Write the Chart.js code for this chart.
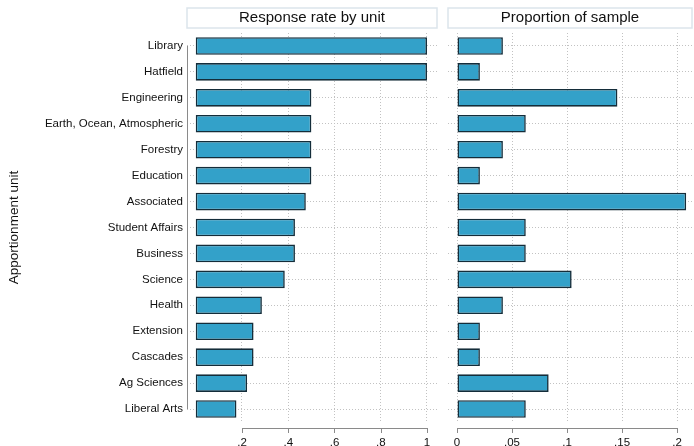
<!DOCTYPE html>
<html>
<head>
<meta charset="utf-8">
<script src="https://cdn.jsdelivr.net/npm/chart.js@4"></script>
<style>
  html, body { margin: 0; padding: 0; background: #fff; }
  #wrap { position: relative; width: 694px; height: 446px; }
  #left { position: absolute; left: 0; top: 0; }
  #right { position: absolute; left: 442px; top: 0; }
</style>
</head>
<body>
<div id="wrap">
  <canvas id="left" width="442" height="446"></canvas>
  <canvas id="right" width="252" height="446"></canvas>
</div>
<script>
const units = [
  "Library", "Hatfield", "Engineering", "Earth, Ocean, Atmospheric", "Forestry",
  "Education", "Associated", "Student Affairs", "Business", "Science",
  "Health", "Extension", "Cascades", "Ag Sciences", "Liberal Arts"
];
const responseRate = [1, 1, 0.5, 0.5, 0.5, 0.5, 0.476, 0.429, 0.429, 0.385, 0.286, 0.25, 0.25, 0.222, 0.176];
const proportion = [0.0417, 0.0208, 0.1458, 0.0625, 0.0417, 0.0208, 0.2083, 0.0625, 0.0625, 0.1042, 0.0417, 0.0208, 0.0208, 0.0833, 0.0625];
const rateTicks = [0.2, 0.4, 0.6, 0.8, 1];
const propTicks = [0, 0.05, 0.1, 0.15, 0.2];

const FONT = "'Liberation Sans', Arial, Helvetica, sans-serif";
const barFill = "#33a1c9";
const barEdge = "#142d3a";
const gridColor = "#c2c2c2";
const axisColor = "#8a8a8a";

// strip the leading zero the way Stata prints it
const fmt = v => {
  const s = String(Math.round(v * 100) / 100);
  return s.startsWith("0.") ? s.slice(1) : s;
};

// boxed panel title plus an x axis line that only spans the ticks
const panelPlugin = {
  id: "panel",
  afterDraw(chart, args, opts) {
    const ctx = chart.ctx;
    const area = chart.chartArea;
    const x = chart.scales.x;
    ctx.save();
    // title box
    ctx.fillStyle = "#fff";
    ctx.strokeStyle = "#dce5eb";
    ctx.lineWidth = 1.5;
    ctx.fillRect(area.left, 8, area.right - area.left, 20);
    ctx.strokeRect(area.left, 8, area.right - area.left, 20);
    ctx.fillStyle = "#111";
    ctx.font = "15px " + FONT;
    ctx.textAlign = "center";
    ctx.textBaseline = "middle";
    ctx.fillText(opts.title, (area.left + area.right) / 2, 18);

    // x axis
    const ticks = opts.ticks;
    const yAxis = area.bottom + 6;
    ctx.strokeStyle = axisColor;
    ctx.lineWidth = 1;
    ctx.beginPath();
    ctx.moveTo(x.getPixelForValue(ticks[0]), yAxis + 0.5);
    ctx.lineTo(x.getPixelForValue(ticks[ticks.length - 1]), yAxis + 0.5);
    ticks.forEach(t => {
      const px = Math.round(x.getPixelForValue(t)) + 0.5;
      ctx.moveTo(px, yAxis);
      ctx.lineTo(px, yAxis + 5);
    });
    ctx.stroke();

    // y axis line (left panel only)
    if (opts.yLine) {
      const y = chart.scales.y;
      ctx.beginPath();
      ctx.moveTo(area.left + 0.5, y.getPixelForValue(0));
      ctx.lineTo(area.left + 0.5, y.getPixelForValue(units.length - 1));
      ctx.stroke();
    }
    ctx.restore();
  }
};

const makeConfig = (values, ticks, min, max, title, showY, padding) => ({
  type: "bar",
  data: {
    labels: units,
    datasets: [{
      data: values,
      backgroundColor: barFill,
      borderColor: barEdge,
      borderWidth: 1.6,
      borderSkipped: false,
      barPercentage: 0.68,
      categoryPercentage: 1
    }]
  },
  options: {
    indexAxis: "y",
    responsive: false,
    animation: false,
    devicePixelRatio: 1,
    layout: { padding: padding },
    scales: {
      x: {
        min: min,
        max: max,
        afterBuildTicks: s => { s.ticks = ticks.map(v => ({ value: v })); },
        afterFit: s => { s.height = 24; },
        border: { display: false, dash: [1, 2] },
        grid: { color: gridColor, drawTicks: true, tickLength: 13, tickColor: "rgba(0,0,0,0)" },
        ticks: {
          padding: 1,
          color: "#111",
          font: { family: FONT, size: 11.5 },
          maxRotation: 0,
          callback: v => fmt(v)
        }
      },
      y: {
        display: true,
        afterFit: s => { s.width = showY ? 187 : 0; },
        border: { display: false, dash: [1, 2] },
        grid: { color: gridColor, offset: false, drawTicks: false },
        ticks: {
          display: showY,
          padding: 4,
          color: "#111",
          font: { family: FONT, size: 11.5 }
        },
        title: {
          display: showY,
          text: "Apportionment unit",
          color: "#111",
          font: { family: FONT, size: 13.5 },
          padding: { top: 6, bottom: 0 }
        }
      }
    },
    plugins: {
      legend: { display: false },
      tooltip: { enabled: false },
      panel: { title: title, ticks: ticks, yLine: showY }
    }
  },
  plugins: [panelPlugin]
});

new Chart(document.getElementById("left"),
  makeConfig(responseRate, rateTicks, -0.0378, 1.0433, "Response rate by unit", true,
    { left: 0, right: 5, top: 33, bottom: 0 }));

new Chart(document.getElementById("right"),
  makeConfig(proportion, propTicks, -0.0082, 0.2136, "Proportion of sample", false,
    { left: 6, right: 2, top: 33, bottom: 0 }));
</script>
</body>
</html>
